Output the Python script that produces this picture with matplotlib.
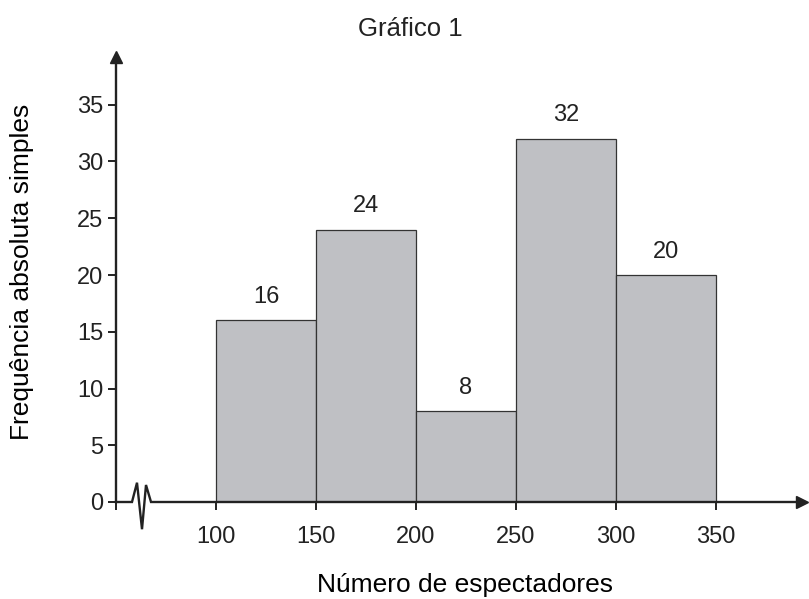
import matplotlib.pyplot as plt
import numpy as np

plt.rcParams['font.family'] = ['Liberation Sans', 'DejaVu Sans']
plt.rcParams['text.color'] = '#222222'

# dados do histograma
limites = [100, 150, 200, 250, 300, 350]
frequencias = [16, 24, 8, 32, 20]
x_ticks = [50, 100, 150, 200, 250, 300, 350]
x_labels = ['', '100', '150', '200', '250', '300', '350']
y_ticks = [0, 5, 10, 15, 20, 25, 30, 35]

fig = plt.figure(figsize=(8.09, 5.99), dpi=100)
ax = fig.add_axes([116 / 809, 97 / 599, 692 / 809, 454 / 599])

larguras = np.diff(limites)
ax.bar(limites[:-1], frequencias, width=larguras, align='edge',
       color='#bfc0c4', edgecolor='#333333', linewidth=0.9, zorder=2)

# rótulos das barras
for x0, w, f in zip(limites[:-1], larguras, frequencias):
    ax.text(x0 + w / 2, f + 1.1, str(f), ha='center', va='bottom',
            fontsize=17, color='#222222')

ax.set_xlim(50, 396)
ax.set_ylim(0, 40)

# eixos
for s in ax.spines.values():
    s.set_visible(False)
ax.plot([50, 50], [0, 39.2], color='#222222', lw=1.7, clip_on=False, zorder=3)
ax.plot(50, 39.2, '^', color='#222222', ms=9, clip_on=False, zorder=3)

# eixo x com quebra (zigue-zague)
zx = [50, 58, 60.5, 63, 65, 67.5, 393]
zy = [0, 0, 1.7, -2.4, 1.5, 0, 0]
ax.plot(zx, zy, color='#222222', lw=1.7, clip_on=False, zorder=3,
        solid_joinstyle='miter')
ax.plot(393, 0, '>', color='#222222', ms=9, clip_on=False, zorder=3)

ax.set_xticks(x_ticks)
ax.set_xticklabels(x_labels)
ax.set_yticks(y_ticks)
ax.tick_params(axis='both', labelsize=17, length=6, width=1.4,
               color='#222222', labelcolor='#222222', direction='out')
ax.tick_params(axis='x', pad=11)
ax.tick_params(axis='y', pad=3)

fig.text(410 / 809, 1 - 29 / 599, 'Gráfico 1', ha='center', va='center',
         fontsize=18.5, color='#222222')
ax.set_xlabel('Número de espectadores', fontsize=19)
ax.set_ylabel('Frequência absoluta simples', fontsize=19)
ax.xaxis.set_label_coords((465 - 116) / 692, -(585 - 502) / 454)
ax.xaxis.label.set_va('center')
ax.yaxis.set_label_coords(-(116 - 22) / 692, (502 - 272) / 454)
ax.yaxis.label.set_va('center')

fig.savefig('out.png', dpi=100)
